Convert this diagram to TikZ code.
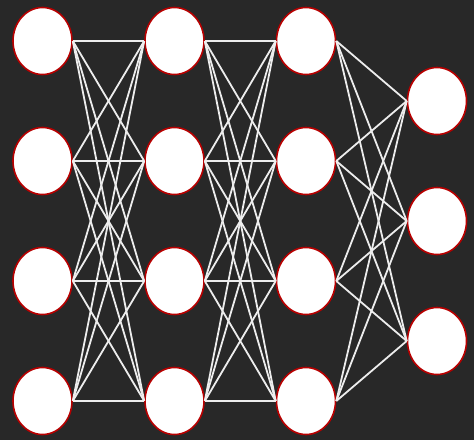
\documentclass[tikz,border=0pt]{standalone}
\usetikzlibrary{shapes.geometric}
\begin{document}
\begin{tikzpicture}[x=1pt,y=-1pt,
  neuron/.style={ellipse,draw=nodeborder,line width=1.6pt,fill=white,minimum width=59pt,minimum height=67pt,inner sep=0pt},
  edge/.style={draw=white!93!black,line width=1.8pt}]
\definecolor{bg}{HTML}{282828}
\definecolor{nodeborder}{HTML}{B80000}
\fill[bg] (0,0) rectangle (474,440);
\useasboundingbox (0,0) rectangle (474,440);
\foreach \c/\x in {1/42.5,2/174.5,3/306} {
  \foreach \r/\y in {1/41,2/161,3/281,4/401} {
    \node[neuron] (n\c\r) at (\x,\y) {};
  }
}
\foreach \r/\y in {1/101,2/221,3/341} {
  \node[neuron] (n4\r) at (437,\y) {};
}
\foreach \c/\d in {1/2,2/3} {
  \foreach \i in {1,...,4} {
    \foreach \j in {1,...,4} {
      \draw[edge] (n\c\i.east) -- (n\d\j.west);
    }
  }
}
\foreach \i in {1,...,4} {
  \foreach \j in {1,...,3} {
    \draw[edge] (n3\i.east) -- (n4\j.west);
  }
}
\end{tikzpicture}
\end{document}
